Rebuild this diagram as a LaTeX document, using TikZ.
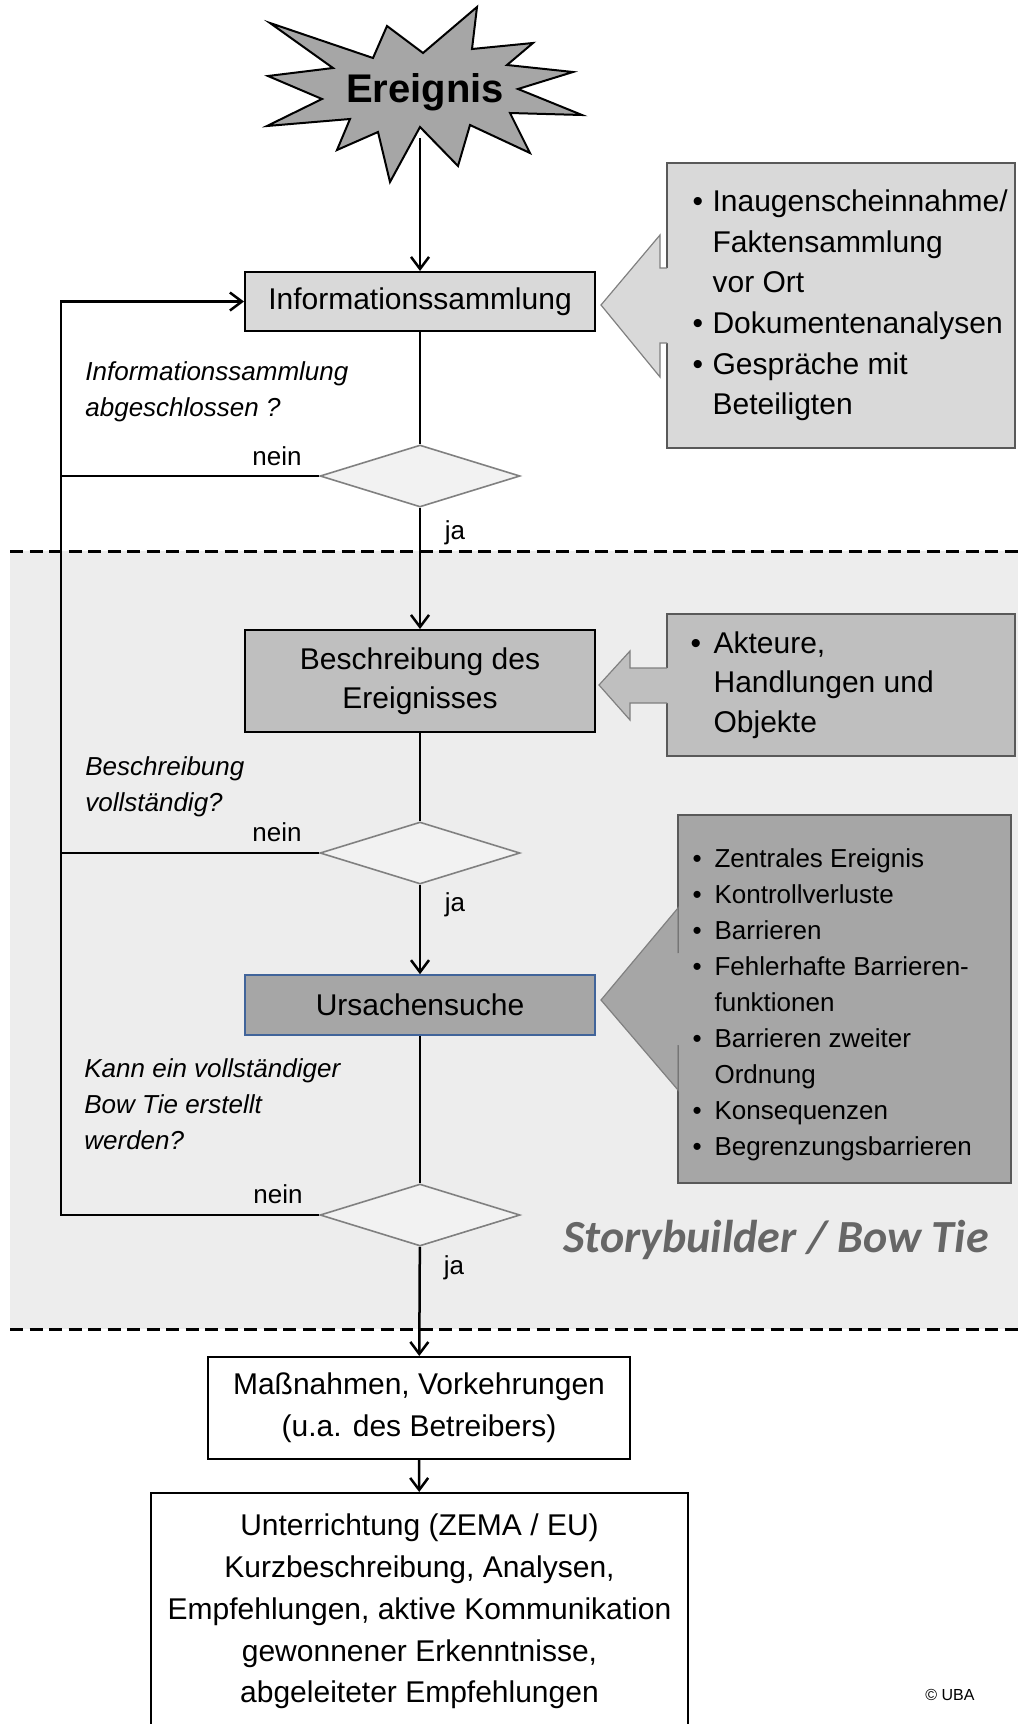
\documentclass[tikz,border=0pt]{standalone}
\usepackage{fontspec}
\setmainfont{Liberation Sans}
\newfontfamily\calibri{Carlito}
\usetikzlibrary{positioning,shapes.geometric,arrows.meta}

\definecolor{boxlight}{HTML}{D9D9D9}
\definecolor{boxmid}{HTML}{BFBFBF}
\definecolor{boxdark}{HTML}{A6A6A6}
\definecolor{zoneback}{HTML}{EDEDED}
\definecolor{decfill}{HTML}{F2F2F2}
\definecolor{edgegray}{HTML}{808080}
\definecolor{ursblue}{HTML}{41649A}
\definecolor{tiegray}{HTML}{666666}

\newcommand{\bitem}[1][10pt]{\makebox[#1][l]{\textbullet}}
\newcommand{\bcont}[1][10pt]{\hspace*{#1}}

\begin{document}
\begin{tikzpicture}[x=0.5pt,y=-0.5pt,
  >={Straight Barb[length=6pt,width=9pt]},
  flow/.style={line width=1.25pt},
  proc/.style={draw,line width=1pt,minimum width=175pt,align=center,font=\fontsize{15}{19.5}\selectfont},
  dec/.style={diamond,draw=edgegray,fill=decfill,line width=0.8pt,minimum width=100pt,minimum height=31pt,inner sep=0pt},
  ask/.style={anchor=north west,inner sep=0pt,align=left,font=\fontsize{13}{18}\selectfont\itshape},
  lbl/.style={inner sep=0pt,font=\fontsize{13}{15}\selectfont},
  side/.style={draw=black!65,line width=0.8pt},
  sidetext/.style={inner sep=0pt,align=left},
  callout/.style={draw=edgegray,line width=0.6pt},
  zone/.style={line width=1.5pt,dash pattern=on 6.5pt off 3.25pt}]
  \useasboundingbox (0,0) rectangle (1018,1724);

  % storybuilder zone
  \fill[zoneback] (10,551) rectangle (1018,1329);
  \draw[zone] (10,551) -- (1018,551);
  \draw[zone] (10,1329) -- (1018,1329);

  % event star
  \draw[line width=1pt,fill=boxdark] (270,23) -- (373,58) -- (387,26) -- (423,53) -- (477,7) -- (472,49)
    -- (533,43) -- (507,65) -- (573,72) -- (518,89) -- (582,115) -- (510,113) -- (530,153) -- (470,125)
    -- (458,166) -- (420,127) -- (390,182) -- (378,132) -- (337,150) -- (350,119) -- (267,126)
    -- (322,99) -- (268,76) -- (333,68) -- cycle;
  \node[font=\bfseries\fontsize{20}{24}\selectfont] (ereignis) at (425,92) {Ereignis};
  \coordinate (starfoot) at (420,138);

  % main flow
  \node[proc,fill=boxlight,minimum height=29.5pt] (info) at (420,301.5) {Informationssammlung};
  \node[dec] (dia1) at (420,476) {};
  \node[proc,fill=boxmid,minimum height=51pt] (beschr) at (420,681) {Beschreibung des\\Ereignisses};
  \node[dec] (dia2) at (420,853) {};
  \node[proc,fill=boxdark,draw=ursblue,line width=0.8pt,minimum height=30pt] (ursache) at (420,1005) {Ursachensuche};
  \node[dec] (dia3) at (420,1215) {};
  \node[proc,fill=white,minimum width=211pt,minimum height=51pt,font=\fontsize{15}{21}\selectfont] (massn) at (419,1408) {Maßnahmen, Vorkehrungen\\(u.a. des Betreibers)};
  \node[proc,fill=white,minimum width=268.5pt,minimum height=118.5pt,font=\fontsize{15}{20.9}\selectfont] (unterr) at (419.5,1611.5)
    {Unterrichtung (ZEMA / EU)\\Kurzbeschreibung, Analysen,\\Empfehlungen, aktive Kommunikation\\gewonnener Erkenntnisse,\\abgeleiteter Empfehlungen};

  % questions and answers
  \node[ask] (ask1) at (85,361) {Informationssammlung\\abgeschlossen ?};
  \node[ask] (ask2) at (85,756) {Beschreibung\\vollständig?};
  \node[ask] (ask3) at (84,1058) {Kann ein vollständiger\\Bow Tie erstellt\\werden?};
  \node[lbl,anchor=base west] (nein1) at (252,465) {nein};
  \node[lbl,anchor=base west] (nein2) at (252,841) {nein};
  \node[lbl,anchor=base west] (nein3) at (253,1203) {nein};
  \node[lbl] (ja1) at (455,533) {ja};
  \node[lbl] (ja2) at (455,905) {ja};
  \node[lbl] (ja3) at (454,1268) {ja};

  % connectors
  \coordinate (back) at (61,1215);
  \draw[flow,->] (starfoot) -- (info);
  \draw[flow] (info) -- (dia1);
  \draw[flow,->] (dia1) -- (beschr);
  \draw[flow] (beschr) -- (dia2);
  \draw[flow,->] (dia2) -- (ursache);
  \draw[flow] (ursache) -- (dia3);
  \draw[flow,->] (dia3) -- (massn);
  \draw[flow,->] (massn) -- (unterr);
  \draw[flow,->] (dia3.west) -- (back) |- (info.west);
  \draw[flow] (dia1.west) -- (dia1.west -| back);
  \draw[flow] (dia2.west) -- (dia2.west -| back);

  % side boxes
  \node[side,fill=boxlight,minimum width=174pt,minimum height=142.5pt] (sidea) at (841,305.5) {};
  \node[sidetext,font=\fontsize{15}{20.3}\selectfont,right=13pt of sidea.west] (sideatext)
    {\bitem Inaugenscheinnahme/\\\bcont Faktensammlung\\\bcont vor Ort\\\bitem Dokumentenanalysen\\\bitem Gespräche mit\\\bcont Beteiligten};
  \fill[boxlight] (669,268) -- (660,268) -- (660,235) -- (601,305) -- (660,377) -- (660,343) -- (669,343) -- cycle;
  \draw[callout] (667,268) -- (660,268) -- (660,235) -- (601,305) -- (660,377) -- (660,343) -- (667,343);

  \node[side,fill=boxmid,minimum width=174pt,minimum height=71pt] (sideb) at (841,685) {};
  \node[sidetext,font=\fontsize{15}{19.8}\selectfont,right=12pt of sideb.west] (sidebtext)
    {\bitem[11.5pt]Akteure,\\\bcont[11.5pt]Handlungen und\\\bcont[11.5pt]Objekte};
  \fill[boxmid] (669,668) -- (630,668) -- (630,651) -- (599,685) -- (630,720) -- (630,703) -- (669,703) -- cycle;
  \draw[callout] (667,668) -- (630,668) -- (630,651) -- (599,685) -- (630,720) -- (630,703) -- (667,703);

  \node[side,fill=boxdark,minimum width=166.5pt,minimum height=184pt] (sidec) at (844.5,999) {};
  \node[sidetext,font=\fontsize{13}{18}\selectfont,right=7.5pt of sidec.west,yshift=-3pt] (sidectext)
    {\bitem[11pt]Zentrales Ereignis\\\bitem[11pt]Kontrollverluste\\\bitem[11pt]Barrieren\\\bitem[11pt]Fehlerhafte Barrieren-\\\bcont[11pt]funktionen\\\bitem[11pt]Barrieren zweiter\\\bcont[11pt]Ordnung\\\bitem[11pt]Konsequenzen\\\bitem[11pt]Begrenzungsbarrieren};
  \fill[boxdark] (680,953) -- (678,953) -- (678,908) -- (601,1000) -- (678,1090) -- (678,1045) -- (680,1045) -- cycle;
  \draw[callout] (678,953) -- (678,908) -- (601,1000) -- (678,1090) -- (678,1045);

  \node[font=\calibri\bfseries\itshape\fontsize{23}{26}\selectfont,text=tiegray] (tielabel) at (776,1240) {Storybuilder / Bow Tie};
  \node[font=\fontsize{8}{10}\selectfont] (uba) at (950,1695) {© UBA};
\end{tikzpicture}
\end{document}
